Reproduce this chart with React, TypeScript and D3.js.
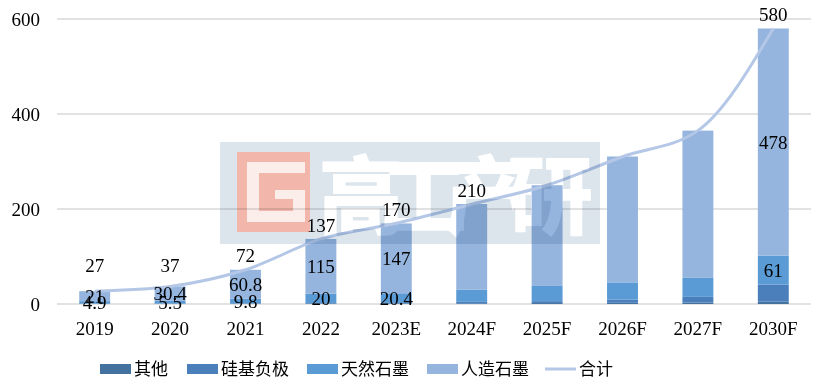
import { useEffect, useRef } from 'react';
import * as d3 from 'd3';

const categories = ['2019', '2020', '2021', '2022', '2023E', '2024F', '2025F', '2026F', '2027F', '2030F'];
const other = [0.6, 0.6, 0.7, 1, 1.1, 1.5, 2, 2.5, 3, 5];
const silicon = [0.5, 0.5, 0.7, 1, 1.1, 3, 4, 7, 12, 36];
const natural = [4.9, 5.5, 9.8, 20, 20.4, 26, 32, 36, 40, 61];
const artificial = [21, 30.4, 60.8, 115, 147, 180, 212, 265, 310, 478];
const total = [27, 37, 72, 137, 170, 210, 250, 310, 365, 580];
const yTicks = [0, 200, 400, 600];

// which categories carry data labels in the original
const segLabelIdx = [0, 1, 2, 3, 4, 9];
const totalLabelIdx = [0, 1, 2, 3, 4, 5, 9];

const series = [
  { name: '其他', values: other, color: '#44729e' },
  { name: '硅基负极', values: silicon, color: '#4a7fbc' },
  { name: '天然石墨', values: natural, color: '#5b9bd5' },
  { name: '人造石墨', values: artificial, color: '#95b5de' },
];
const lineColor = '#b4c7e7';
const font = '"Liberation Serif", "Times New Roman", "Noto Sans CJK SC", serif';

export default function App() {
  const svgRef = useRef<SVGSVGElement>(null);

  useEffect(() => {
    if (!svgRef.current) return;
    const svg = d3.select(svgRef.current);
    svg.selectAll('*').remove();

    const width = 820;
    const height = 387;
    svg.attr('width', width).attr('height', height);

    const x = d3.scaleBand<string>().domain(categories).range([57, 811]).paddingInner(0.59).paddingOuter(0.295);
    const y = d3.scaleLinear().domain([0, 600]).range([304, 19]);

    // gridlines
    svg
      .append('g')
      .selectAll('line')
      .data(yTicks)
      .join('line')
      .attr('x1', 57)
      .attr('x2', 811)
      .attr('y1', (d) => y(d))
      .attr('y2', (d) => y(d))
      .attr('stroke', '#d9d9d9')
      .attr('stroke-width', 1.5);

    // y tick labels
    svg
      .append('g')
      .selectAll('text')
      .data(yTicks)
      .join('text')
      .attr('x', 40)
      .attr('y', (d) => y(d))
      .attr('dy', '0.35em')
      .attr('text-anchor', 'end')
      .attr('font-family', font)
      .attr('font-size', 19)
      .text((d) => d);

    // stacked bars
    const rows = categories.map((c, i) => {
      const r: any = { cat: c };
      series.forEach((s) => (r[s.name] = s.values[i]));
      return r;
    });
    const stacked = d3.stack<any>().keys(series.map((s) => s.name))(rows);

    stacked.forEach((layer, li) => {
      svg
        .append('g')
        .selectAll('rect')
        .data(layer)
        .join('rect')
        .attr('x', (d) => x(d.data.cat)!)
        .attr('width', x.bandwidth())
        .attr('y', (d) => y(d[1]))
        .attr('height', (d) => y(d[0]) - y(d[1]))
        .attr('fill', series[li].color);
    });

    // x labels
    svg
      .append('g')
      .selectAll('text')
      .data(categories)
      .join('text')
      .attr('x', (d) => x(d)! + x.bandwidth() / 2)
      .attr('y', 328)
      .attr('dy', '0.35em')
      .attr('text-anchor', 'middle')
      .attr('font-family', font)
      .attr('font-size', 19)
      .text((d) => d);

    // total line
    const cx = (i: number) => x(categories[i])! + x.bandwidth() / 2;
    const line = d3
      .line<number>()
      .x((_, i) => cx(i))
      .y((d) => y(d))
      .curve(d3.curveMonotoneX);
    svg
      .append('path')
      .attr('d', line(total))
      .attr('fill', 'none')
      .attr('stroke', lineColor)
      .attr('stroke-width', 3);

    // segment labels (天然石墨, 人造石墨)
    [2, 3].forEach((li) => {
      svg
        .append('g')
        .selectAll('text')
        .data(segLabelIdx)
        .join('text')
        .attr('x', (i) => cx(i))
        .attr('y', (i) => y((stacked[li][i][0] + stacked[li][i][1]) / 2))
        .attr('dy', '0.35em')
        .attr('text-anchor', 'middle')
        .attr('font-family', font)
        .attr('font-size', 19)
        .text((i) => series[li].values[i]);
    });

    // total labels
    svg
      .append('g')
      .selectAll('text')
      .data(totalLabelIdx)
      .join('text')
      .attr('x', (i) => cx(i))
      .attr('y', (i) => Math.min(y(total[i]) - 14, y(0) - 39))
      .attr('dy', '0.35em')
      .attr('text-anchor', 'middle')
      .attr('font-family', font)
      .attr('font-size', 19)
      .text((i) => total[i]);

    // watermark
    const wm = svg.append('g').style('mix-blend-mode', 'multiply');
    wm.append('rect').attr('x', 220).attr('y', 142).attr('width', 380).attr('height', 102).attr('fill', '#dce4ec');
    const lg = wm.append('g').attr('transform', 'translate(237,152)');
    lg.append('rect').attr('width', 73).attr('height', 80).attr('fill', '#f2b7aa');
    const gParts = [
      [10, 10, 58, 11],
      [10, 10, 12, 60],
      [10, 59, 58, 11],
      [56, 38, 12, 32],
      [38, 38, 30, 9],
    ];
    lg.selectAll('rect.g')
      .data(gParts)
      .join('rect')
      .attr('class', 'g')
      .attr('x', (d) => d[0])
      .attr('y', (d) => d[1])
      .attr('width', (d) => d[2])
      .attr('height', (d) => d[3])
      .attr('fill', '#fbeeea');
    wm.append('text')
      .attr('x', 318)
      .attr('y', 228)
      .attr('font-family', '"Noto Sans CJK SC", sans-serif')
      .attr('font-weight', 900)
      .attr('font-size', 86)
      .attr('fill', '#ffffff')
      .attr('textLength', 275)
      .text('高工产研');

    // legend
    const legendItems = [
      ...series.map((s) => ({ name: s.name, color: s.color, type: 'rect' })),
      { name: '合计', color: lineColor, type: 'line' },
    ];
    const legendX = [100, 187, 307, 427, 545];
    const lgd = svg.append('g');
    legendItems.forEach((item, i) => {
      const g = lgd.append('g').attr('transform', `translate(${legendX[i]},369)`);
      if (item.type === 'rect') {
        g.append('rect').attr('x', 0).attr('y', -5).attr('width', 31).attr('height', 10).attr('fill', item.color);
      } else {
        g.append('line').attr('x1', 0).attr('x2', 31).attr('y1', 0).attr('y2', 0).attr('stroke', item.color).attr('stroke-width', 3);
      }
      g.append('text')
        .attr('x', 34)
        .attr('y', 0)
        .attr('dy', '0.35em')
        .attr('font-family', font)
        .attr('font-size', 17)
        .text(item.name);
    });
  }, []);

  return (
    <div style={{ position: 'absolute', left: 0, top: 0, background: '#fff' }}>
      <svg ref={svgRef} style={{ display: 'block' }} />
    </div>
  );
}
